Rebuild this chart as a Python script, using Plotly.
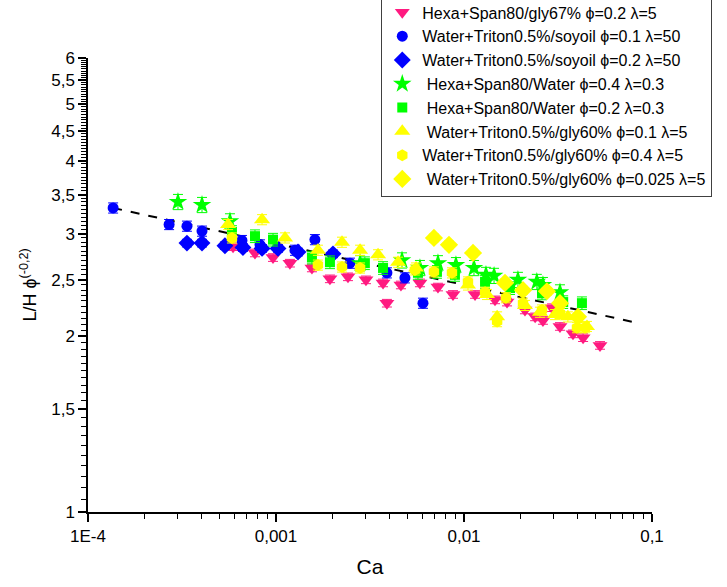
import plotly.graph_objects as go

# ---------------- data ----------------
pink_x = [5.91e-4, 7.73e-4, 9.64e-4, 1.186e-3, 1.553e-3, 1.936e-3, 2.415e-3, 3.01e-3, 3.71e-3, 3.89e-3,
          4.62e-3, 5.83e-3, 7.27e-3, 8.74e-3, 1.145e-2, 1.462e-2, 1.694e-2, 2.11e-2, 2.39e-2, 2.63e-2,
          2.94e-2, 3.24e-2, 3.80e-2, 4.30e-2, 5.29e-2]
pink_y = [2.85, 2.78, 2.73, 2.67, 2.62, 2.51, 2.53, 2.50, 2.47, 2.28,
          2.45, 2.47, 2.43, 2.36, 2.36, 2.31, 2.29, 2.22, 2.16, 2.13,
          2.24, 2.08, 2.02, 1.99, 1.93]

bcirc_x = [1.36e-4, 2.70e-4, 3.36e-4, 4.04e-4, 6.59e-4, 8.22e-4, 1.262e-3, 1.611e-3, 2.475e-3, 3.89e-3, 4.85e-3, 6.05e-3]
bcirc_y = [3.32, 3.11, 3.09, 3.03, 2.92, 2.87, 2.81, 2.93, 2.67, 2.57, 2.52, 2.28]

bdiam_x = [3.36e-4, 4.04e-4, 5.35e-4, 6.67e-4, 8.43e-4, 1.025e-3, 1.309e-3, 2.01e-3]
bdiam_y = [2.89, 2.89, 2.86, 2.84, 2.83, 2.83, 2.79, 2.77]

gstar_x = [3.01e-4, 4.04e-4, 5.69e-4, 2.8e-3, 4.68e-3, 5.83e-3, 7.27e-3, 9.06e-3, 1.13e-2, 1.309e-2,
           1.445e-2, 1.936e-2, 2.44e-2, 2.63e-2, 3.24e-2]
gstar_y = [3.40, 3.36, 3.15, 2.67, 2.70, 2.62, 2.67, 2.65, 2.62, 2.55,
           2.54, 2.50, 2.48, 2.45, 2.38]

gsq_x = [5.83e-4, 7.73e-4, 9.64e-4, 1.553e-3, 1.936e-3, 2.97e-3, 3.71e-3, 5.69e-3, 7.18e-3, 8.95e-3,
         1.294e-2, 1.758e-2, 2.60e-2, 3.37e-2, 4.24e-2]
gsq_y = [3.02, 2.97, 2.93, 2.73, 2.68, 2.67, 2.62, 2.57, 2.58, 2.55,
         2.48, 2.42, 2.37, 2.29, 2.28]

ytri_x = [5.56e-4, 8.43e-4, 1.117e-3, 1.671e-3, 2.244e-3, 2.80e-3, 3.49e-3, 4.46e-3, 5.56e-3, 1.05e-2,
          1.325e-2, 1.50e-2, 2.11e-2, 2.535e-2, 3.05e-2, 3.57e-2, 4.51e-2]
ytri_y = [3.11, 3.17, 2.95, 2.81, 2.90, 2.81, 2.76, 2.68, 2.62, 2.45,
          2.36, 2.16, 2.26, 2.20, 2.18, 2.16, 2.08]

yhex_x = [5.83e-4, 1.671e-3, 2.244e-3, 2.80e-3, 5.48e-3, 6.92e-3, 8.63e-3, 1.05e-2, 1.294e-2, 1.50e-2,
          1.671e-2, 2.06e-2, 2.60e-2, 3.24e-2, 3.99e-2, 4.40e-2]
yhex_y = [2.95, 2.65, 2.63, 2.62, 2.60, 2.58, 2.57, 2.48, 2.38, 2.12,
          2.33, 2.28, 2.22, 2.19, 2.07, 2.07]

ydiam_x = [6.92e-3, 8.32e-3, 1.117e-2, 1.652e-2, 2.06e-2, 2.76e-2, 3.24e-2, 4.04e-2]
ydiam_y = [2.95, 2.87, 2.78, 2.47, 2.40, 2.39, 2.28, 2.16]

fit_x = [1.36e-4, 0.0832]
fit_y = [3.32, 2.11]

names = ["Hexa+Span80/gly67% ϕ=0.2 λ=5",
         "Water+Triton0.5%/soyoil ϕ=0.1 λ=50",
         "Water+Triton0.5%/soyoil ϕ=0.2 λ=50",
         " Hexa+Span80/Water ϕ=0.4 λ=0.3",
         " Hexa+Span80/Water ϕ=0.2 λ=0.3",
         " Water+Triton0.5%/gly60% ϕ=0.1 λ=5",
         "Water+Triton0.5%/gly60% ϕ=0.4 λ=5",
         " Water+Triton0.5%/gly60% ϕ=0.025 λ=5"]

x_tickvals = [1e-4, 1e-3, 1e-2, 1e-1]
x_ticktext = ["1E-4", "0,001", "0,01", "0,1"]
y_tickvals = [1, 1.5, 2, 2.5, 3, 3.5, 4, 4.5, 5, 5.5, 6]
y_ticktext = ["1", "1,5", "2", "2,5", "3", "3,5", "4", "4,5", "5", "5,5", "6"]

PINK = "#FF1A80"
BLUE = "#0000FF"
GREEN = "#00FF00"
YELLOW = "#FFFF00"

series = [
    (pink_x, pink_y, names[0], PINK, "triangle-down", 13, 1.5),
    (bcirc_x, bcirc_y, names[1], BLUE, "circle", 11, 2.0),
    (bdiam_x, bdiam_y, names[2], BLUE, "diamond", 13, 1.5),
    (gstar_x, gstar_y, names[3], GREEN, "star", 14, 3.0),
    (gsq_x, gsq_y, names[4], GREEN, "square", 10, 2.5),
    (ytri_x, ytri_y, names[5], YELLOW, "triangle-up", 14, 2.0),
    (yhex_x, yhex_y, names[6], YELLOW, "hexagon", 12, 2.0),
    (ydiam_x, ydiam_y, names[7], YELLOW, "diamond", 14, 1.5),
]

fig = go.Figure()

fig.add_trace(go.Scatter(x=fit_x, y=fit_y, mode="lines", showlegend=False,
                         line=dict(color="black", width=2, dash="dash")))

for xs, ys, nm, col, sym, sz, err in series:
    fig.add_trace(go.Scatter(
        x=xs, y=ys, mode="markers", name=nm,
        marker=dict(symbol=sym, size=sz, color=col, line=dict(width=0)),
        error_y=dict(type="percent", value=err, color=col, thickness=1, width=5),
    ))

# minor ticks
x_minor = [m * 10 ** e for e in (-4, -3, -2) for m in range(2, 10)]
y_minor = [round(1 + 0.05 * i, 2) for i in range(1, 100)]
y_minor = [v for v in y_minor if v not in y_tickvals]

font_family = "Arial, Liberation Sans, sans-serif"

fig.update_layout(
    width=727, height=587,
    margin=dict(l=88, r=75, t=58, b=75, autoexpand=False),
    paper_bgcolor="white", plot_bgcolor="white",
    font=dict(family=font_family, size=16, color="black"),
    legend=dict(x=0.52, y=1.14, xanchor="left", yanchor="top",
                bgcolor="white", bordercolor="#404040", borderwidth=1,
                font=dict(size=16, family=font_family), tracegroupgap=0,
                itemwidth=30),
    showlegend=True,
)

fig.update_xaxes(
    type="log", range=[-4, -1], showgrid=False, zeroline=False,
    showline=True, linecolor="black", linewidth=1.5,
    tickmode="array", tickvals=x_tickvals, ticktext=x_ticktext,
    ticks="outside", ticklen=8, tickwidth=1.5, tickcolor="black",
    tickfont=dict(size=17),
    minor=dict(tickmode="array", tickvals=x_minor, ticks="outside", ticklen=5,
               tickwidth=1.2, tickcolor="black"),
    title=dict(text="Ca", font=dict(size=21), standoff=14),
)

fig.update_yaxes(
    type="log", range=[0, 0.77815], showgrid=False, zeroline=False,
    showline=True, linecolor="black", linewidth=1.5,
    tickmode="array", tickvals=y_tickvals, ticktext=y_ticktext,
    ticks="outside", ticklen=8, tickwidth=1.5, tickcolor="black",
    tickfont=dict(size=17),
    minor=dict(tickmode="array", tickvals=y_minor, ticks="outside", ticklen=5,
               tickwidth=1, tickcolor="black"),
    title=dict(text="L/H ϕ<sup>(-0,2)</sup>", font=dict(size=18), standoff=10),
)

fig.write_html("out.html")
